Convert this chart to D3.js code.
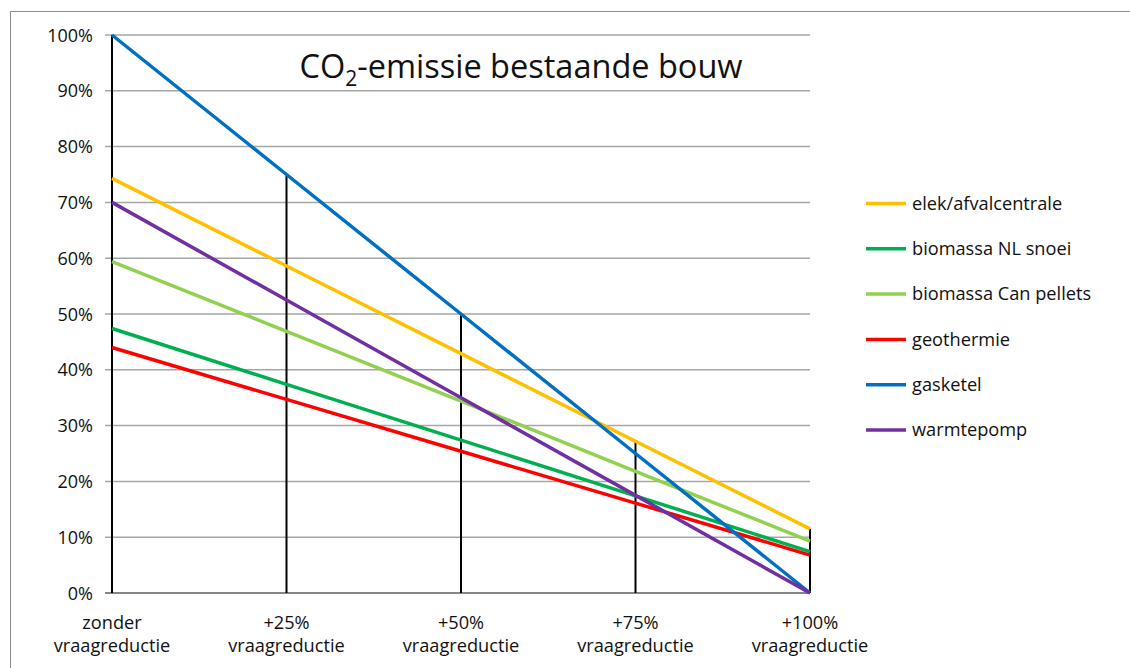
<!DOCTYPE html>
<html>
<head>
<meta charset="utf-8">
<script src="https://cdn.jsdelivr.net/npm/d3@7"></script>
<style>
  html, body { margin: 0; padding: 0; background: #fff; }
  svg { display: block; font-family: "Open Sans", "Liberation Sans", sans-serif; }
</style>
</head>
<body>
<svg id="chart" width="1130" height="668"></svg>
<script>
// Scenario categories (x axis), two-line labels
const categories = ["zonder|vraagreductie", "+25%|vraagreductie", "+50%|vraagreductie", "+75%|vraagreductie", "+100%|vraagreductie"];

// Emissions per heating option, as % of the gas boiler without demand reduction
const elek        = [74.3, 58.6, 42.9, 27.2, 11.5];
const nlSnoei     = [47.4, 37.4, 27.4, 17.4, 7.4];
const canPellets  = [59.4, 46.9, 34.4, 21.8, 9.3];
const geothermie  = [44.0, 34.7, 25.4, 16.1, 6.8];
const gasketel    = [100, 75, 50, 25, 0];
const warmtepomp  = [70, 52.5, 35, 17.5, 0];

const seriesNames  = ["elek/afvalcentrale", "biomassa NL snoei", "biomassa Can pellets", "geothermie", "gasketel", "warmtepomp"];
const seriesValues = [elek, nlSnoei, canPellets, geothermie, gasketel, warmtepomp];
const seriesColors = ["#FFC000", "#00B050", "#92D050", "#FF0000", "#0070C0", "#7030A0"];

const yTicks = [0, 10, 20, 30, 40, 50, 60, 70, 80, 90, 100];

const svg = d3.select("#chart");

// outer frame
svg.append("rect")
  .attr("x", 10.5).attr("y", 11.5)
  .attr("width", 1130).attr("height", 668)
  .attr("fill", "none").attr("stroke", "#8c8c8c").attr("stroke-width", 1);

const x = d3.scalePoint().domain(categories).range([112, 810]);
const y = d3.scaleLinear().domain([0, 100]).range([593, 35]);

// horizontal gridlines with short tick stubs on the left
const yAxis = d3.axisLeft(y).tickValues(yTicks).tickSize(0).tickFormat(d => d + "%");
const gy = svg.append("g").attr("transform", "translate(105,0)");
gy.selectAll("line.grid").data(yTicks).enter().append("line")
  .attr("class", "grid")
  .attr("x1", 0).attr("x2", 810 - 105)
  .attr("y1", d => y(d)).attr("y2", d => y(d))
  .attr("stroke", d => d === 0 ? "#868686" : "#a6a6a6")
  .attr("stroke-width", d => d === 0 ? 2 : 1.5);
gy.call(yAxis);
gy.select(".domain").remove();
gy.selectAll(".tick text")
  .attr("x", -12).attr("dy", "0.34em")
  .attr("font-size", 18).attr("fill", "#111")
  .attr("font-family", "Open Sans, Liberation Sans, sans-serif");

// drop lines: from the axis up to the highest value in each category
const maxima = categories.map((c, i) => d3.max(seriesValues, s => s[i]));
svg.append("g").selectAll("line").data(categories).enter().append("line")
  .attr("x1", d => x(d)).attr("x2", d => x(d))
  .attr("y1", y(0)).attr("y2", (d, i) => y(maxima[i]))
  .attr("stroke", "#000").attr("stroke-width", 2);

// series lines
const line = d3.line().x((d, i) => x(categories[i])).y(d => y(d));
svg.append("g").selectAll("path").data(seriesValues).enter().append("path")
  .attr("d", d => line(d))
  .attr("fill", "none")
  .attr("stroke", (d, i) => seriesColors[i])
  .attr("stroke-width", 3.5)
  .attr("stroke-linejoin", "round");

// x axis labels (two lines each)
const xl = svg.append("g").selectAll("text").data(categories).enter().append("text")
  .attr("x", d => x(d)).attr("y", 629)
  .attr("text-anchor", "middle").attr("font-size", 18.2).attr("fill", "#111");
xl.each(function(d) {
  const parts = d.split("|");
  const t = d3.select(this);
  t.append("tspan").attr("x", x(d)).attr("dy", 0).text(parts[0]);
  t.append("tspan").attr("x", x(d)).attr("dy", 23).text(parts[1]);
});

// title with subscript
const title = svg.append("text")
  .attr("x", 521).attr("y", 78)
  .attr("text-anchor", "middle").attr("font-size", 32.5).attr("fill", "#111");
title.append("tspan").text("CO");
title.append("tspan").attr("font-size", 21).attr("dy", 8).text("2");
title.append("tspan").attr("dy", -8).text("-emissie bestaande bouw");

// legend
const lg = svg.append("g").selectAll("g").data(seriesNames).enter().append("g")
  .attr("transform", (d, i) => `translate(866, ${203.5 + i * 45.3})`);
lg.append("line")
  .attr("x1", 0).attr("x2", 40).attr("y1", 0).attr("y2", 0)
  .attr("stroke", (d, i) => seriesColors[i]).attr("stroke-width", 3.5);
lg.append("text")
  .attr("x", 46).attr("dy", "0.34em")
  .attr("font-size", 18.2).attr("fill", "#111")
  .text(d => d);
</script>
</body>
</html>
